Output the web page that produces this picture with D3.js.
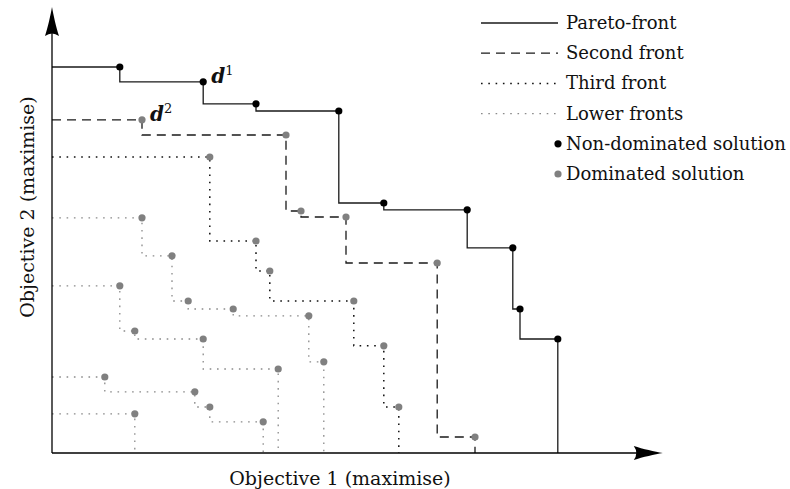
<!DOCTYPE html>
<html>
<head>
<meta charset="utf-8">
<script src="https://cdn.jsdelivr.net/npm/d3@7"></script>
<style>
  html, body { margin: 0; padding: 0; background: #fff; }
  svg { display: block; }
  text { font-family: "DejaVu Serif", "Liberation Serif", serif; fill: #111; }
</style>
</head>
<body>
<svg id="chart" width="790" height="489"></svg>
<script>
// Solutions as [objective 1, objective 2], both to be maximised.
const paretoFront = [
  [11.3, 96.5], [25.2, 92.8], [34.0, 87.3], [47.8, 85.5], [55.3, 62.5],
  [69.2, 60.8], [76.8, 51.3], [78.0, 36.0], [84.3, 28.5]
];
const secondFront = [
  [15.0, 83.3], [39.0, 79.5], [41.5, 60.5], [49.0, 59.0], [64.2, 47.5], [70.5, 4.0]
];
const thirdFront = [
  [26.3, 74.0], [34.0, 53.0], [36.3, 45.5], [50.3, 38.0], [55.3, 26.8], [57.8, 11.5]
];
const fourthFront = [
  [15.0, 58.8], [20.0, 49.3], [22.7, 38.0], [30.2, 36.0], [42.8, 34.3], [45.3, 22.8]
];
const fifthFront = [
  [11.3, 41.8], [13.8, 30.5], [25.2, 28.5], [37.7, 21.0]
];
const sixthFront = [
  [8.8, 19.0], [23.8, 15.3], [26.3, 11.5], [35.2, 7.8]
];
const seventhFront = [
  [13.8, 9.8]
];
const lowerFronts = [fourthFront, fifthFront, sixthFront, seventhFront];

const legendLabels = ["Pareto-front", "Second front", "Third front", "Lower fronts",
                      "Non-dominated solution", "Dominated solution"];
const axisLabels = ["Objective 1 (maximise)", "Objective 2 (maximise)"];
const namedPoints = [
  { name: "d", sup: "1", point: paretoFront[1] },
  { name: "d", sup: "2", point: secondFront[0] }
];
const axisExtent = [101.8, 111.5];

const svg = d3.select("#chart");
const x = d3.scaleLinear().domain([0, 100]).range([52, 652]);
const y = d3.scaleLinear().domain([0, 100]).range([453, 53]);

// A front is drawn as a staircase: it enters from the Objective-2 axis,
// drops at each solution and ends on the Objective-1 axis.
const stair = d3.line()
  .x(d => x(d[0]))
  .y(d => y(d[1]))
  .curve(d3.curveStepBefore);
function stairPoints(front) {
  const pts = front.slice();
  pts.unshift([0, front[0][1]]);
  pts.push([front[front.length - 1][0], 0]);
  return pts;
}

const styles = {
  pareto: { stroke: "#1a1a1a", width: 1.3, dash: null },
  second: { stroke: "#1a1a1a", width: 1.3, dash: "9,6" },
  third:  { stroke: "#111", width: 1.5, dash: "1.6,5.7" },
  lower:  { stroke: "#8a8a8a", width: 1.3, dash: "1.6,5.7" }
};

const gLines = svg.append("g");
function drawFront(front, st) {
  gLines.append("path")
    .attr("d", stair(stairPoints(front)))
    .attr("fill", "none")
    .attr("stroke", st.stroke)
    .attr("stroke-width", st.width)
    .attr("stroke-dasharray", st.dash);
}
lowerFronts.forEach(f => drawFront(f, styles.lower));
drawFront(thirdFront, styles.third);
drawFront(secondFront, styles.second);
drawFront(paretoFront, styles.pareto);

// Axes with arrowheads
const axisG = svg.append("g");
const x0 = x(0), y0 = y(0);
const xTip = x(axisExtent[0]), yTip = y(axisExtent[1]);
axisG.append("line").attr("x1", x0).attr("y1", y0).attr("x2", xTip - 20).attr("y2", y0)
  .attr("stroke", "#000").attr("stroke-width", 1.3);
axisG.append("line").attr("x1", x0).attr("y1", y0).attr("x2", x0).attr("y2", yTip + 20)
  .attr("stroke", "#000").attr("stroke-width", 1.3);
const arrowPath = "M0,0 C-8,-1.5 -20,-4 -29,-7 Q-24,0 -29,7 C-20,4 -8,1.5 0,0 Z";
axisG.append("path").attr("d", arrowPath).attr("fill", "#000")
  .attr("transform", `translate(${xTip},${y0})`);
axisG.append("path").attr("d", arrowPath).attr("fill", "#000")
  .attr("transform", `translate(${x0},${yTip}) rotate(-90)`);

// Solutions
const gPts = svg.append("g");
function drawPoints(front, color) {
  gPts.selectAll(null).data(front).enter().append("circle")
    .attr("cx", d => x(d[0])).attr("cy", d => y(d[1]))
    .attr("r", 3.6).attr("fill", color);
}
lowerFronts.forEach(f => drawPoints(f, "#808080"));
drawPoints(thirdFront, "#808080");
drawPoints(secondFront, "#808080");
drawPoints(paretoFront, "#000");

// Named solutions d^1 and d^2
namedPoints.forEach(p => {
  const t = svg.append("text")
    .attr("x", x(p.point[0]) + 8)
    .attr("y", y(p.point[1]) + 1)
    .style("font-size", "20px");
  t.append("tspan").text(p.name).style("font-weight", "bold").style("font-style", "italic");
  t.append("tspan").text(p.sup).attr("dy", -8).style("font-size", "13px");
});

// Axis titles
svg.append("text").attr("x", 340).attr("y", 485)
  .attr("text-anchor", "middle").style("font-size", "19px").text(axisLabels[0]);
svg.append("text")
  .attr("transform", `translate(34,207) rotate(-90)`)
  .attr("text-anchor", "middle").style("font-size", "19px").text(axisLabels[1]);

// Legend
const legend = svg.append("g").attr("transform", "translate(481,23)");
const legendStyles = [styles.pareto, styles.second, styles.third, styles.lower];
legendLabels.forEach((label, i) => {
  const row = legend.append("g").attr("transform", `translate(0,${i * 30.2})`);
  if (i < 4) {
    const st = legendStyles[i];
    row.append("line").attr("x1", 0).attr("x2", 77).attr("y1", 0).attr("y2", 0)
      .attr("stroke", st.stroke).attr("stroke-width", st.width)
      .attr("stroke-dasharray", st.dash);
  } else {
    row.append("circle").attr("cx", 77).attr("cy", 0).attr("r", 3.6)
      .attr("fill", i === 4 ? "#000" : "#808080");
  }
  row.append("text").attr("x", 85).attr("y", 6).style("font-size", "18px").text(label);
});
</script>
</body>
</html>
